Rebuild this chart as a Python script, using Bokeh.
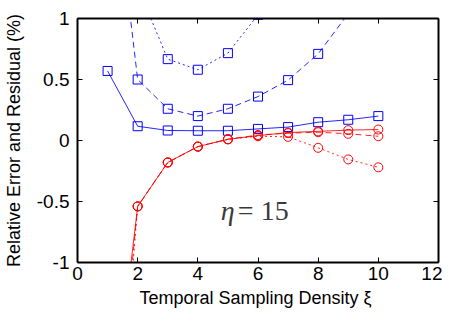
from bokeh.plotting import figure
from bokeh.models import LinearAxis, FixedTicker, CustomJSTickFormatter, Range1d
from bokeh.core.properties import value
from bokeh.embed import file_html
from bokeh.resources import INLINE

# ---- data ----
xi = [1, 2, 3, 4, 5, 6, 7, 8, 9, 10]
blue_solid = [0.57, 0.117, 0.082, 0.08, 0.08, 0.095, 0.11, 0.15, 0.17, 0.20]
blue_dashed = [2.6, 0.50, 0.26, 0.20, 0.26, 0.36, 0.495, 0.71, 1.04, 1.4]
blue_dotted = [4.0, 1.26, 0.667, 0.58, 0.716, 1.03, 1.5, 2.1, 2.8, 3.6]
red_solid = [-2.63, -0.54, -0.18, -0.05, 0.01, 0.04, 0.065, 0.075, 0.085, 0.09]
red_dashed = [-3.1, -0.54, -0.18, -0.05, 0.01, 0.045, 0.06, 0.068, 0.055, 0.035]
red_dotted = [-3.6, -0.54, -0.18, -0.05, 0.01, 0.035, 0.03, -0.06, -0.155, -0.22]
x_ticks = [0, 2, 4, 6, 8, 10, 12]
y_ticks = [-1, -0.5, 0, 0.5, 1]
annotation_symbol = "η"
annotation_value = "= 15"
x_label = "Temporal Sampling Density  ξ"
y_label = "Relative Error and Residual (%)"

p = figure(width=442, height=314, output_backend="svg", toolbar_location=None,
           x_range=Range1d(0, 12), y_range=Range1d(-1, 1),
           x_axis_label=x_label, y_axis_label=y_label,
           min_border_left=71, min_border_right=4, min_border_top=18, min_border_bottom=52)
p.grid.visible = False
p.outline_line_color = None
p.background_fill_color = "white"
p.border_fill_color = "white"

fmt = CustomJSTickFormatter(code="return tick.toString();")
for ax, ticks in ((p.xaxis[0], x_ticks), (p.yaxis[0], y_ticks)):
    ax.ticker = FixedTicker(ticks=ticks)
    ax.formatter = fmt
    ax.major_tick_in = 5
    ax.major_tick_out = 0
    ax.minor_tick_line_color = None
    ax.axis_line_width = 2
    ax.major_tick_line_width = 1
    ax.major_label_text_font = "Liberation Sans"
    ax.major_label_text_font_size = "19px"
    ax.major_label_text_color = "black"
    ax.axis_label_text_font = "Liberation Sans"
    ax.axis_label_text_font_size = "18px"
    ax.axis_label_text_font_style = "normal"
    ax.axis_label_text_color = "black"
p.xaxis[0].major_label_standoff = 4
p.xaxis[0].axis_label_standoff = 5
p.yaxis[0].major_label_standoff = 8
p.yaxis[0].axis_label_standoff = 10

for side, ticks in (("above", x_ticks), ("right", y_ticks)):
    ax = LinearAxis(ticker=FixedTicker(ticks=ticks), major_tick_in=5, major_tick_out=0,
                    minor_tick_line_color=None, axis_line_width=2,
                    major_label_text_font_size="1px", major_label_text_color=None,
                    major_label_standoff=0)
    p.add_layout(ax, side)

blue = "#0000ff"
red = "#ff0000"
series = [
    (blue_solid, blue, "solid", "square"),
    (blue_dashed, blue, "6 4", "square"),
    (blue_dotted, blue, "2 3", "square"),
    (red_solid, red, "solid", "circle"),
    (red_dashed, red, "6 4", "circle"),
    (red_dotted, red, "2 3", "circle"),
]
for ys, col, dash, mk in series:
    p.line(xi, ys, line_color=col, line_width=1, line_dash=dash, line_alpha=0.85)
    p.scatter(xi, ys, marker=mk, size=9, fill_color=None, line_color=col, line_width=1)

p.text(x=[4.76], y=[-0.57], text=[annotation_symbol], text_font=value("Liberation Serif"),
       text_font_style="italic", text_font_size="28px", text_color="#3a3a3a",
       text_baseline="alphabetic", text_align="left")
p.text(x=[5.33], y=[-0.57], text=[annotation_value], text_font=value("Liberation Serif"),
       text_font_size="28px", text_color="#3a3a3a",
       text_baseline="alphabetic", text_align="left")

open("out.html", "w").write(file_html(p, INLINE))
